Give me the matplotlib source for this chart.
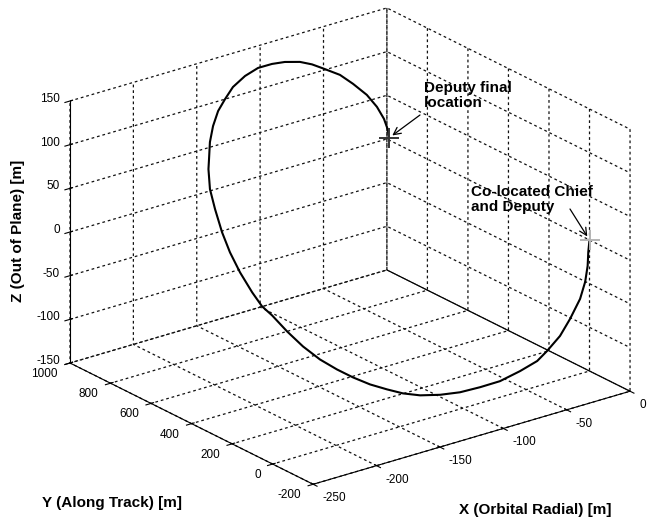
import matplotlib
matplotlib.use("Agg")
import matplotlib.pyplot as plt
from mpl_toolkits.mplot3d import proj3d

plt.rcParams['font.family'] = ['Liberation Sans', 'DejaVu Sans']
plt.rcParams['axes.unicode_minus'] = False

# deputy trajectory, metres
x_pts = [0.0, -5.4, -11.0, -17.7, -25.9, -37.8, -47.6, -57.7, -64.7, -73.7,
         -85.0, -93.9, -102.9, -110.9, -118.8, -123.6, -128.4, -134.5, -141.2, -148.2,
         -155.4, -161.3, -166.4, -171.8, -176.5, -179.6, -181.4, -182.1, -181.7, -179.6,
         -177.0, -172.6, -171.0, -165.8, -158.7, -149.9, -141.4, -131.7, -119.9, -109.8,
         -101.5, -94.9, -88.2, -83.8, -80.6, -74.3, -71.5, -68.7, -66.9, -65.8,
         -65.3, -63.2]
y_pts = [0.0, -27.8, -59.6, -89.3, -115.5, -140.4, -152.1, -151.3, -146.6, -118.3,
         -89.9, -47.6, -4.4, 43.5, 93.0, 147.2, 195.8, 241.5, 283.6, 319.1,
         358.2, 405.0, 451.7, 491.9, 512.0, 541.5, 590.2, 635.4, 676.9, 724.5,
         765.9, 800.9, 808.1, 836.2, 865.2, 895.2, 913.8, 935.9, 949.9, 949.0,
         932.1, 910.0, 877.3, 845.3, 811.2, 766.9, 719.8, 669.3, 630.6, 602.7,
         586.5, 594.5]
z_pts = [0, -8, -18, -30, -43, -58, -72, -85, -94, -105,
         -115, -123, -130, -135, -138, -140, -139, -136, -130, -122,
         -112, -100, -86, -70, -60, -46, -28, -10, 8, 28,
         45, 62, 72, 86, 98, 108, 116, 123, 129, 134,
         137, 139, 140, 139, 137, 132, 126, 118, 108, 97,
         86, 75]

xticks = [-250, -200, -150, -100, -50, 0]
yticks = [-200, 0, 200, 400, 600, 800, 1000]
zticks = [-150, -100, -50, 0, 50, 100, 150]

W, H = 653, 518
fig = plt.figure(figsize=(W / 100, H / 100), dpi=100)
ax = fig.add_axes([0, 0, 1, 1], projection='3d', proj_type='ortho')
ax.view_init(elev=22.5, azim=-127.5)
ax.set_box_aspect((1, 1, 0.71))

ax.plot(x_pts, y_pts, z_pts, color='k', lw=1.5)
ax.plot([x_pts[0]], [y_pts[0]], [z_pts[0]], marker='+', ms=14, mew=1.4, color='#b4b4b4')
ax.plot([x_pts[-1]], [y_pts[-1]], [z_pts[-1]], marker='+', ms=14, mew=1.4, color='#333333')
# solid bottom edge of the x=0 wall
ax.plot([0, 0], [yticks[-1], yticks[0]], [zticks[0], zticks[0]], color='k', lw=0.6)

ax.set_xlim(xticks[0], xticks[-1])
ax.set_ylim(yticks[0], yticks[-1])
ax.set_zlim(zticks[0], zticks[-1])
ax.set_xticks(xticks)
ax.set_yticks(yticks)
ax.set_zticks(zticks)
ax.set_xticklabels([])
ax.set_yticklabels([])
ax.set_zticklabels([])

for axis in (ax.xaxis, ax.yaxis, ax.zaxis):
    axis.set_pane_color((1, 1, 1, 1))
    axis._axinfo['grid'].update(color='#111111', linewidth=0.9, linestyle=(0, (2.2, 2.3)))
    axis.line.set_color('k')
    axis.line.set_linewidth(0.8)

# fit the axes box onto the reference corners
fig.canvas.draw()


def to_px(x, y, z):
    X, Y, _ = proj3d.proj_transform(x, y, z, ax.get_proj())
    return ax.transData.transform((X, Y))


pA = to_px(xticks[0], yticks[-1], zticks[0])
pC = to_px(xticks[-1], yticks[0], zticks[0])
At = (70, H - 363)
Ct = (630, H - 392)
k = ((Ct[0] - At[0]) ** 2 + (Ct[1] - At[1]) ** 2) ** 0.5 / \
    ((pC[0] - pA[0]) ** 2 + (pC[1] - pA[1]) ** 2) ** 0.5
pos = ax.get_position()
ox, oy, w, h = pos.x0 * W, pos.y0 * H, pos.width * W, pos.height * H
nox = At[0] - k * (pA[0] - ox)
noy = At[1] - k * (pA[1] - oy)
ax.set_position([nox / W, noy / H, k * w / W, k * h / H])
fig.canvas.draw()


def data2d(x, y, z):
    X, Y, _ = proj3d.proj_transform(x, y, z, ax.get_proj())
    return (X, Y)


# tick labels, MATLAB style
tick_font = dict(fontsize=8.5, textcoords='offset pixels', annotation_clip=False)
for t in xticks:
    ax.annotate(str(t), xy=data2d(t, yticks[0], zticks[0]), xytext=(9, -14),
                ha='left', va='center', **tick_font)
for t in yticks:
    ax.annotate(str(t), xy=data2d(xticks[0], t, zticks[0]), xytext=(-12, -11),
                ha='right', va='center', **tick_font)
for t in zticks:
    ax.annotate(str(t), xy=data2d(xticks[0], yticks[-1], t), xytext=(-10, 2),
                ha='right', va='center', **tick_font)

arrow = dict(arrowstyle='->', color='k', lw=0.9, mutation_scale=13, shrinkA=0, shrinkB=3)
ax.annotate('', xy=data2d(x_pts[-1], y_pts[-1], z_pts[-1]), xycoords='data',
            xytext=(420, H - 115), textcoords='figure pixels', arrowprops=arrow)
ax.annotate('', xy=data2d(x_pts[0], y_pts[0], z_pts[0]), xycoords='data',
            xytext=(570, H - 209), textcoords='figure pixels', arrowprops=arrow)

fig.text(424 / W, 1 - 81 / H, 'Deputy final\nlocation', ha='left', va='top',
         fontsize=11, fontweight='bold', linespacing=1.1)
fig.text(471 / W, 1 - 185 / H, 'Co-located Chief\nand Deputy', ha='left', va='top',
         fontsize=11, fontweight='bold', linespacing=1.1)

fig.text(18 / W, 1 - 231 / H, 'Z (Out of Plane) [m]', rotation=90, ha='center',
         va='center', fontsize=11, fontweight='bold')
fig.text(112 / W, 1 - 503 / H, 'Y (Along Track) [m]', ha='center', va='center',
         fontsize=11, fontweight='bold')
fig.text(535 / W, 1 - 510 / H, 'X (Orbital Radial) [m]', ha='center', va='center',
         fontsize=11, fontweight='bold')

fig.savefig('out.png', dpi=100)
